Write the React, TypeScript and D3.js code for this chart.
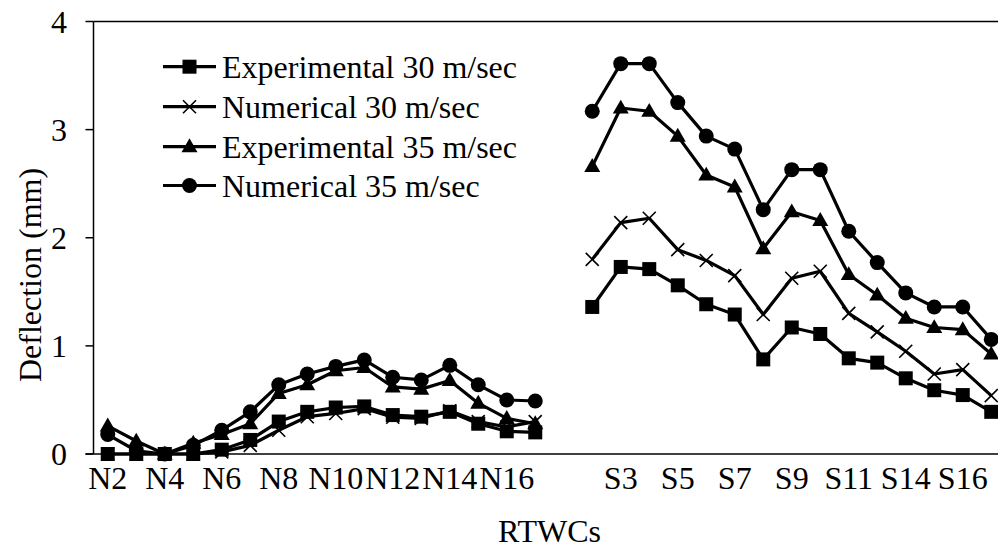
import React from "react";
import * as d3 from "d3";

const categories = [
  "N2","N3","N4","N5","N6","N7","N8","N9","N10","N11","N12","N13","N14","N15","N16","N17",
  "",
  "S2","S3","S4","S5","S6","S7","S8","S9","S10","S11","S12","S14","S15","S16","S17",
];

const expt30: (number | null)[] = [
  0, 0, 0, 0, 0.04, 0.13, 0.30, 0.39, 0.43, 0.44, 0.36, 0.345, 0.39, 0.28, 0.21, 0.20,
  null,
  1.36, 1.73, 1.71, 1.56, 1.385, 1.29, 0.875, 1.17, 1.11, 0.885, 0.845, 0.70, 0.59, 0.545, 0.39,
];
const num30: (number | null)[] = [
  0, 0, 0, 0, 0.02, 0.08, 0.22, 0.345, 0.375, 0.42, 0.34, 0.33, 0.40, 0.30, 0.25, 0.30,
  null,
  1.80, 2.14, 2.18, 1.89, 1.79, 1.65, 1.29, 1.625, 1.69, 1.30, 1.13, 0.95, 0.74, 0.78, 0.54,
];
const expt35: (number | null)[] = [
  0.26, 0.12, 0, 0.1, 0.18, 0.28, 0.56, 0.64, 0.77, 0.80, 0.62, 0.60, 0.68, 0.47, 0.33, 0.28,
  null,
  2.66, 3.20, 3.17, 2.94, 2.58, 2.47, 1.90, 2.24, 2.16, 1.66, 1.47, 1.255, 1.17, 1.15, 0.925,
];
const num35: (number | null)[] = [
  0.18, 0.03, 0, 0.08, 0.22, 0.39, 0.64, 0.74, 0.81, 0.87, 0.71, 0.685, 0.82, 0.64, 0.50, 0.49,
  null,
  3.17, 3.61, 3.61, 3.25, 2.94, 2.82, 2.26, 2.63, 2.63, 2.06, 1.77, 1.49, 1.36, 1.36, 1.06,
];

const seriesNames = [
  "Experimental 30 m/sec",
  "Numerical 30 m/sec",
  "Experimental 35 m/sec",
  "Numerical 35 m/sec",
];
const seriesMarkers = ["square", "cross", "triangle", "circle"];
const yTicks = [0, 1, 2, 3, 4];
const xTitle = "RTWCs";
const yTitle = "Deflection (mm)";

const W = 998;
const H = 550;
const left = 93.5;
const step = 28.5;
const right = left + step * categories.length;
const top = 21.5;
const bottom = 454;
const FONT = "Liberation Serif, Times New Roman, DejaVu Serif, serif";

function Marker({ type, x, y }: { type: string; x: number; y: number }) {
  if (type === "square") {
    const s = 14;
    return <rect x={x - s / 2} y={y - s / 2} width={s} height={s} fill="#000" />;
  }
  if (type === "circle") {
    return <circle cx={x} cy={y} r={7.5} fill="#000" />;
  }
  if (type === "triangle") {
    const s = 16;
    const h = s * 0.87;
    const p = `M${x},${y - h * 0.6} L${x + s / 2},${y + h * 0.4} L${x - s / 2},${y + h * 0.4} Z`;
    return <path d={p} fill="#000" />;
  }
  const r = 6.5;
  return (
    <path
      d={`M${x - r},${y - r} L${x + r},${y + r} M${x - r},${y + r} L${x + r},${y - r}`}
      stroke="#000"
      strokeWidth={1.6}
      fill="none"
    />
  );
}

export default function App() {
  const x = d3.scaleBand<string>().domain(categories.map((c, i) => c + "_" + i)).range([left, right]);
  const xc = (i: number) => (x(categories[i] + "_" + i) as number) + x.bandwidth() / 2;
  const y = d3.scaleLinear().domain([0, 4]).range([bottom, top]);
  const allSeries = [expt30, num30, expt35, num35];

  const line = d3
    .line<number | null>()
    .defined((d) => d != null)
    .x((_, i) => xc(i))
    .y((d) => y(d as number));

  const legendY = [66.7, 106.7, 146.7, 185.5];
  const tStyle = { fontFamily: FONT, fontSize: 32 };

  return (
    <svg width={W} height={H} style={{ position: "absolute", left: 0, top: 0, background: "#fff", fontFamily: FONT }}>
      <rect x={0} y={0} width={W} height={H} fill="#fff" />
      <line x1={left} x2={left} y1={top} y2={bottom} stroke="#000" strokeWidth={1.5} />
      <line x1={left - 8} x2={right} y1={bottom} y2={bottom} stroke="#000" strokeWidth={1.5} />
      <line x1={left} x2={right} y1={top} y2={top} stroke="#000" strokeWidth={1.5} />
      {yTicks.map((t) => (
        <g key={t}>
          <line x1={left - 8} x2={left} y1={y(t)} y2={y(t)} stroke="#000" strokeWidth={1.5} />
          <text x={67} y={y(t)} dy="0.35em" textAnchor="end" style={tStyle}>
            {t}
          </text>
        </g>
      ))}
      {categories.map((c, i) =>
        i % 2 === 0 && c ? (
          <text key={i} x={xc(i)} y={489} textAnchor="middle" style={tStyle}>
            {c}
          </text>
        ) : null
      )}
      <text x={(left + right) / 2} y={542} textAnchor="middle" style={tStyle}>
        {xTitle}
      </text>
      <text transform={`translate(30,275) rotate(-90)`} dy="0.35em" textAnchor="middle" style={tStyle}>
        {yTitle}
      </text>
      {allSeries.map((s, si) => (
        <g key={si}>
          <path d={line(s) || ""} fill="none" stroke="#000" strokeWidth={3.2} strokeLinejoin="round" />
          {s.map((v, i) => (v == null ? null : <Marker key={i} type={seriesMarkers[si]} x={xc(i)} y={y(v)} />))}
        </g>
      ))}
      {seriesNames.map((n, i) => (
        <g key={n}>
          <line x1={163} x2={216} y1={legendY[i]} y2={legendY[i]} stroke="#000" strokeWidth={3.2} />
          <Marker type={seriesMarkers[i]} x={189.5} y={legendY[i]} />
          <text x={222} y={legendY[i]} dy="0.35em" style={tStyle}>
            {n}
          </text>
        </g>
      ))}
    </svg>
  );
}
